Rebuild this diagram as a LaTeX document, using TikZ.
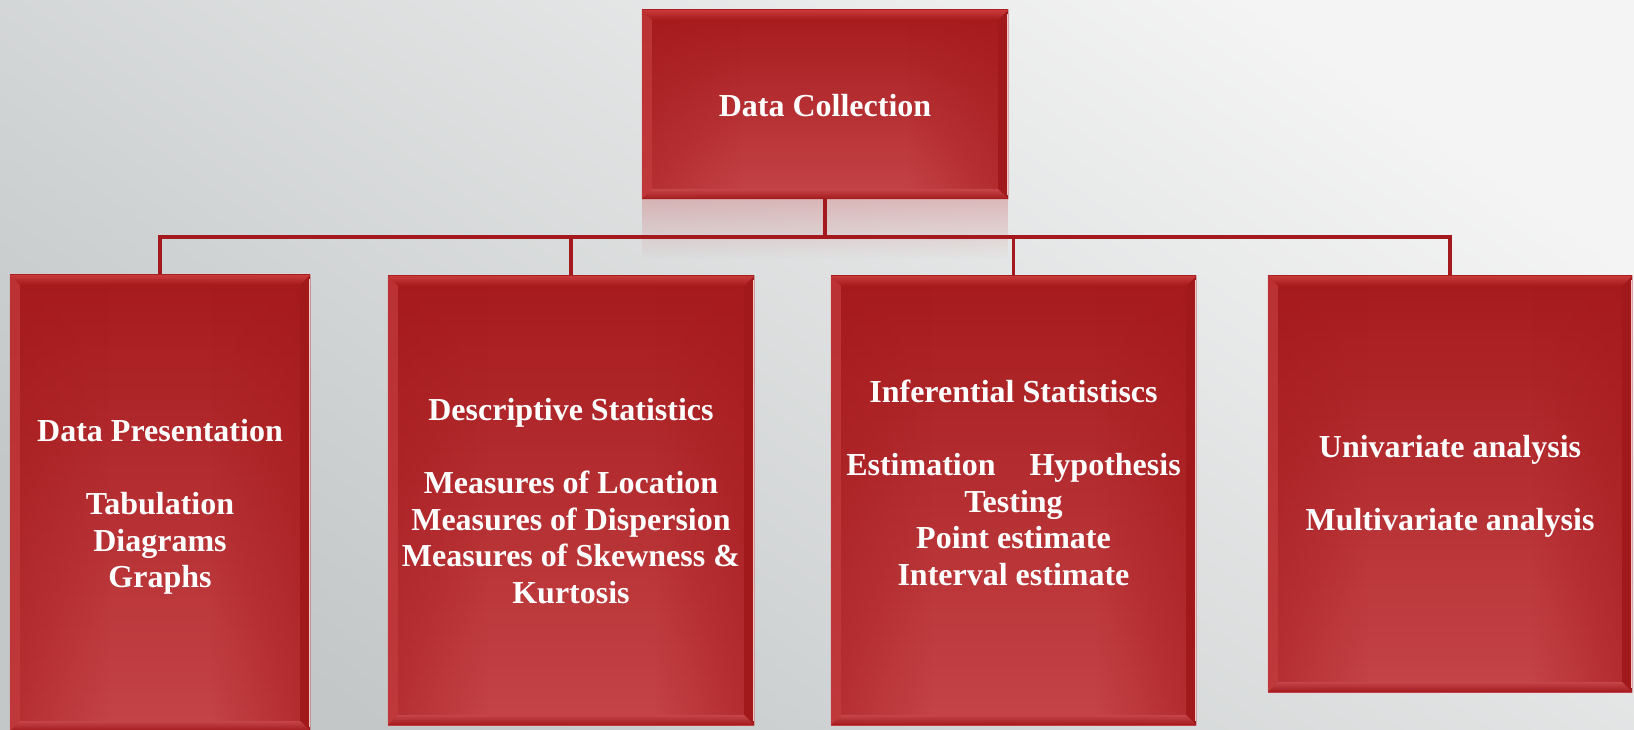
\documentclass[tikz,border=0pt]{standalone}
\usepackage{fontspec}
\setmainfont{Liberation Serif}
\usetikzlibrary{fadings,calc}
\definecolor{bgLight}{HTML}{F4F4F4}
\definecolor{bgDark}{HTML}{C3C7C8}
\definecolor{boxTop}{HTML}{A61A1D}
\definecolor{boxBot}{HTML}{C44447}
\definecolor{boxEdge}{HTML}{A2191C}
\definecolor{bevelHi}{HTML}{F26B6B}
\definecolor{bevelMid}{HTML}{C93A3B}
\definecolor{bevelLeft}{HTML}{C43C3E}
\definecolor{edgePink}{HTML}{F6C8C8}
\definecolor{lineRed}{HTML}{A3191D}
\tikzfading[name=fadeToRight, left color=transparent!0, right color=transparent!100]
\tikzfading[name=fadeToLeft, left color=transparent!100, right color=transparent!0]
\tikzfading[name=fadeDown, top color=transparent!0, bottom color=transparent!100]
\tikzset{
  boxnode/.style={rectangle, inner sep=0pt, top color=boxTop, bottom color=boxBot},
  lbl/.style={text=white, inner sep=0pt, align=center,
    font=\fontsize{32}{36.5}\selectfont\bfseries},
  conn/.style={draw=lineRed, line width=3.2pt},
}
\newcommand\bevelbox[1]{%
  \path (#1.north west) coordinate (nw) (#1.north east) coordinate (ne)
        (#1.south west) coordinate (sw) (#1.south east) coordinate (se);
  \fill[boxTop, fill opacity=0.5, path fading=fadeToRight] (nw) rectangle ($(sw)+(100,0)$);
  \fill[boxTop, fill opacity=0.6, path fading=fadeToLeft] ($(ne)+(-100,0)$) rectangle (se);
  \fill[bevelLeft, fill opacity=0.7] (nw) -- ($(nw)+(10,-10)$) -- ($(sw)+(10,10)$) -- (sw) -- cycle;
  \fill[boxEdge] (ne) -- ($(ne)+(-10,-10)$) -- ($(se)+(-10,10)$) -- (se) -- cycle;
  \shade[top color=boxBot, bottom color=boxEdge] (sw) -- ($(sw)+(10,10)$) -- ($(se)+(-10,10)$) -- (se) -- cycle;
  \shade[top color=bevelMid, middle color=bevelHi, bottom color=boxTop] (nw) -- (ne) -- ($(ne)+(-10,-10)$) -- ($(nw)+(10,-10)$) -- cycle;
  \draw[edgePink, line width=1.6pt] ($(ne)+(-0.8,-4)$) -- ($(se)+(-0.8,4)$);
}
\begin{document}
\begin{tikzpicture}[x=1pt, y=1pt]
\useasboundingbox (0,0) rectangle (1634,729);
\clip (0,0) rectangle (1634,729);
% background
\shade[top color=bgLight, bottom color=bgDark, shading angle=-35] (0,0) rectangle (1634,729);
% boxes (positions)
\node[boxnode, minimum width=366pt, minimum height=189pt] (top) at (825,624.5) {};
\node[boxnode, minimum width=300pt, minimum height=456pt] (b1) at (160,226) {};
\node[boxnode, minimum width=366pt, minimum height=449pt] (b2) at (571,228.5) {};
\node[boxnode, minimum width=365pt, minimum height=449pt] (b3) at (1013.5,228.5) {};
\node[boxnode, minimum width=364pt, minimum height=416pt] (b4) at (1450,245) {};
% reflection of the top box
\fill[boxBot, fill opacity=0.28, path fading=fadeDown] (top.south west) rectangle ($(top.south east)+(0,-60)$);
% connectors
\coordinate (bus) at (825,492);
\draw[conn] (top.south) -- (bus);
\draw[conn] (b1.north) |- (bus) -| (b4.north);
\draw[conn] (b2.north) -- (b2.north |- bus);
\draw[conn] (b3.north) -- (b3.north |- bus);
% redraw boxes above connectors
\node[boxnode, minimum width=366pt, minimum height=189pt] at (top) {};
\node[boxnode, minimum width=300pt, minimum height=456pt] at (b1) {};
\node[boxnode, minimum width=366pt, minimum height=449pt] at (b2) {};
\node[boxnode, minimum width=365pt, minimum height=449pt] at (b3) {};
\node[boxnode, minimum width=364pt, minimum height=416pt] at (b4) {};
\bevelbox{top}
\bevelbox{b1}
\bevelbox{b2}
\bevelbox{b3}
\bevelbox{b4}
% texts
\node[lbl, anchor=base] (t0) at (825,612.4) {Data Collection};
\node[lbl, anchor=north] (t1) at (160,313) {\strut Data Presentation\\[36.5pt]Tabulation\\Diagrams\\Graphs};
\node[lbl, anchor=north] (t2) at (571,334) {\strut Descriptive Statistics\\[36.5pt]Measures of Location\\Measures of Dispersion\\Measures of Skewness \&\\Kurtosis};
\node[lbl, anchor=north] (t3) at (1013.5,352) {\strut Inferential Statistiscs\\[36.5pt]Estimation\hspace{34pt}Hypothesis\\Testing\\Point estimate\\Interval estimate};
\node[lbl, anchor=north] (t4) at (1450,297) {\strut Univariate analysis\\[36.5pt]Multivariate analysis};
\end{tikzpicture}
\end{document}
